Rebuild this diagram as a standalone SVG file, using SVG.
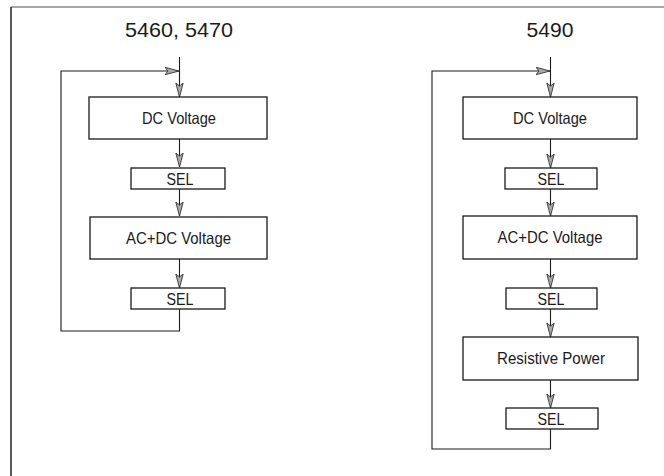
<svg xmlns="http://www.w3.org/2000/svg" width="664" height="476" viewBox="0 0 664 476">
<style>
.box{fill:#fff;stroke:#1a1a1a;stroke-width:1.3}
.t{font-family:"Liberation Sans",Arial,sans-serif;font-size:16.5px;fill:#1a1a1a;text-anchor:middle}
.title{font-family:"Liberation Sans",Arial,sans-serif;font-size:21px;fill:#1a1a1a;text-anchor:middle}
.ln{fill:none;stroke:#1a1a1a;stroke-width:1.1}
</style>
<defs>
<marker id="ah" markerUnits="userSpaceOnUse" markerWidth="16" markerHeight="10" refX="14" refY="4" orient="auto">
<path d="M0,0.3 L14,4 L0,7.7 L3,4 Z" fill="#aaa" stroke="#333" stroke-width="0.9"/>
</marker>
</defs>
<rect width="664" height="476" fill="#fff"/>
<g id="frame">
<line x1="11" y1="7" x2="664" y2="7" stroke="#888" stroke-width="1.5"/>
<line x1="11" y1="7" x2="11" y2="476" stroke="#222" stroke-width="1.5"/>
</g>
<g id="titles">
<text class="title" x="179" y="37" textLength="108" lengthAdjust="spacingAndGlyphs">5460, 5470</text>
<text class="title" x="550" y="37" textLength="47" lengthAdjust="spacingAndGlyphs">5490</text>
</g>
<g id="connectors">
<line class="ln" x1="179.5" y1="57" x2="179.5" y2="97" marker-end="url(#ah)"/>
<polyline class="ln" points="179.5,309 179.5,331 61,331 61,71 179,71" marker-end="url(#ah)"/>
<line class="ln" x1="179.5" y1="139" x2="179.5" y2="167" marker-end="url(#ah)"/>
<line class="ln" x1="179.5" y1="189" x2="179.5" y2="216" marker-end="url(#ah)"/>
<line class="ln" x1="179.5" y1="259" x2="179.5" y2="288" marker-end="url(#ah)"/>
<line class="ln" x1="550.5" y1="57" x2="550.5" y2="97" marker-end="url(#ah)"/>
<polyline class="ln" points="550.5,429 550.5,449 432,449 432,71 550,71" marker-end="url(#ah)"/>
<line class="ln" x1="550.5" y1="139" x2="550.5" y2="168" marker-end="url(#ah)"/>
<line class="ln" x1="550.5" y1="189" x2="550.5" y2="216" marker-end="url(#ah)"/>
<line class="ln" x1="550.5" y1="259" x2="550.5" y2="288" marker-end="url(#ah)"/>
<line class="ln" x1="550.5" y1="309" x2="550.5" y2="337" marker-end="url(#ah)"/>
<line class="ln" x1="550.5" y1="380" x2="550.5" y2="408" marker-end="url(#ah)"/>
</g>
<g id="l-dc"><rect class="box" x="89" y="97" width="178" height="42"/><text class="t" x="179" y="123.5" textLength="74" lengthAdjust="spacingAndGlyphs">DC Voltage</text></g>
<g id="l-sel1"><rect class="box" x="131" y="168" width="94" height="21"/><text class="t" x="180" y="184.5" textLength="27" lengthAdjust="spacingAndGlyphs">SEL</text></g>
<g id="l-acdc"><rect class="box" x="90" y="217" width="177" height="42"/><text class="t" x="178.5" y="243.5" textLength="105" lengthAdjust="spacingAndGlyphs">AC+DC Voltage</text></g>
<g id="l-sel2"><rect class="box" x="131" y="288" width="94" height="21"/><text class="t" x="180" y="304.5" textLength="27" lengthAdjust="spacingAndGlyphs">SEL</text></g>
<g id="r-dc"><rect class="box" x="463" y="97" width="174" height="42"/><text class="t" x="550" y="123.5" textLength="74" lengthAdjust="spacingAndGlyphs">DC Voltage</text></g>
<g id="r-sel1"><rect class="box" x="505" y="168" width="92" height="21"/><text class="t" x="551" y="184.5" textLength="27" lengthAdjust="spacingAndGlyphs">SEL</text></g>
<g id="r-acdc"><rect class="box" x="463" y="216" width="174" height="43"/><text class="t" x="550" y="242.5" textLength="105" lengthAdjust="spacingAndGlyphs">AC+DC Voltage</text></g>
<g id="r-sel2"><rect class="box" x="506" y="288" width="91" height="21"/><text class="t" x="551" y="304.5" textLength="27" lengthAdjust="spacingAndGlyphs">SEL</text></g>
<g id="r-rp"><rect class="box" x="463" y="337" width="175" height="43"/><text class="t" x="551" y="364" textLength="108" lengthAdjust="spacingAndGlyphs">Resistive Power</text></g>
<g id="r-sel3"><rect class="box" x="506" y="408" width="92" height="21"/><text class="t" x="551" y="424.5" textLength="27" lengthAdjust="spacingAndGlyphs">SEL</text></g>
</svg>
